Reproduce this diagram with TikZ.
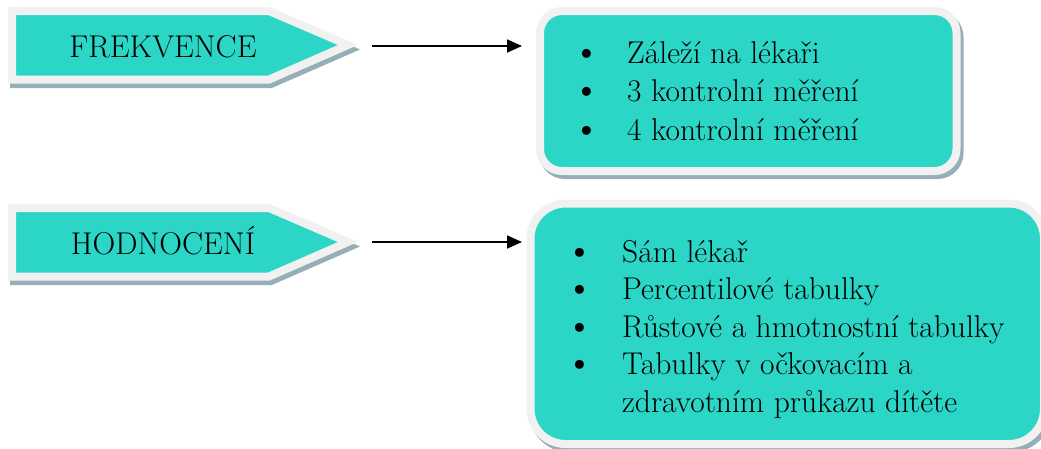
\documentclass[tikz,border=0pt]{standalone}
\usetikzlibrary{arrows.meta}
\definecolor{tealfill}{RGB}{44,214,199}
\definecolor{rimgray}{RGB}{241,241,241}
\definecolor{shadowgray}{RGB}{150,174,184}
\begin{document}
\begin{tikzpicture}[x=1pt,y=-1pt,
  rim/.style={fill=tealfill, draw=rimgray, line width=8pt, line join=miter},
  shade/.style={fill=shadowgray, draw=shadowgray, line width=8pt, line join=miter},
  tagtext/.style={font=\fontsize{31.5}{37}\selectfont, anchor=base, inner sep=0pt},
  itemtext/.style={font=\fontsize{31.5}{37}\selectfont, anchor=base west, inner sep=0pt},
  dot/.style={font=\fontsize{40}{40}\selectfont, anchor=base, inner sep=0pt},
  link/.style={line width=1.8pt, -{Triangle[length=15pt,width=13pt]}}
]
\useasboundingbox (0,0) rectangle (1041,448);

% arrow-shaped tags: shadow first, then the tag itself
\foreach \dy in {0,197} {
  \begin{scope}[yshift=-\dy pt]
    \path[shade] (14,15) -- (271,15) -- (350,49.5) -- (271,84) -- (14,84) -- cycle;
    \path[rim] (12,11) -- (269,11) -- (348,45) -- (269,79.5) -- (12,79.5) -- cycle;
  \end{scope}
}
\node[tagtext] (tag1) at (163,57) {FREKVENCE};
\node[tagtext] (tag2) at (163,254) {HODNOCENÍ};

% rounded content boxes
\path[shade, rounded corners=22pt] (543,15) rectangle (959.5,175);
\path[rim, rounded corners=22pt] (540,11) rectangle (956.5,171);
\path[shade, rounded corners=35pt] (533.5,207.5) rectangle (1047,448);
\path[rim, rounded corners=35pt] (530.5,203.5) rectangle (1044,444);

% first list
\node[dot] (b11) at (587,64) {\textbullet};
\node[itemtext] (t11) at (627,63) {Záleží na lékaři};
\node[dot] (b12) at (587,102.5) {\textbullet};
\node[itemtext] (t12) at (627,101.5) {3 kontrolní měření};
\node[dot] (b13) at (587,141) {\textbullet};
\node[itemtext] (t13) at (627,140) {4 kontrolní měření};

% second list
\node[dot] (b21) at (580,263) {\textbullet};
\node[itemtext] (t21) at (622,262) {Sám lékař};
\node[dot] (b22) at (580,300.5) {\textbullet};
\node[itemtext] (t22) at (622,299.5) {Percentilové tabulky};
\node[dot] (b23) at (580,338) {\textbullet};
\node[itemtext] (t23) at (622,337) {Růstové a hmotnostní tabulky};
\node[dot] (b24) at (580,375.5) {\textbullet};
\node[itemtext] (t24) at (622,374.5) {Tabulky v očkovacím a};
\node[itemtext] (t25) at (622,412) {zdravotním průkazu dítěte};

% connectors
\coordinate (s1) at (372,46);
\coordinate (e1) at (522,46);
\coordinate (s2) at (372,242);
\coordinate (e2) at (522,242);
\draw[link] (s1) -- (e1);
\draw[link] (s2) -- (e2);
\end{tikzpicture}
\end{document}
